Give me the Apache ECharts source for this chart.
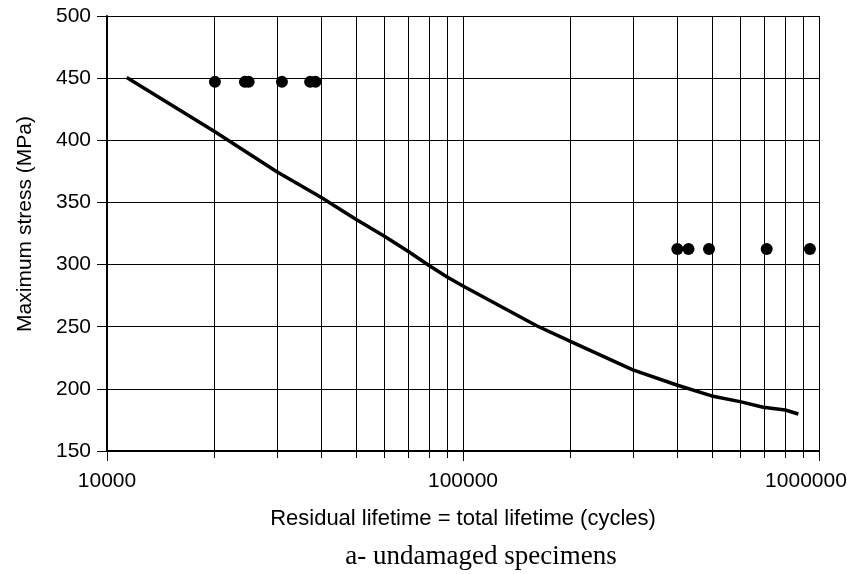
<!DOCTYPE html>
<html>
<head>
<meta charset="utf-8">
<script src="https://cdn.jsdelivr.net/npm/echarts@6/dist/echarts.min.js"></script>
<style>
  html, body { margin: 0; padding: 0; background: #ffffff; }
  #chart { width: 856px; height: 574px; }
</style>
</head>
<body>
<div id="chart"></div>
<script>
// Axis ranges and tick values
const lifeMin = 10000;
const lifeMax = 1000000;
const stressMin = 150;
const stressMax = 500;
const stressStep = 50;
const lifeMinorGrid = [20000, 30000, 40000, 50000, 60000, 70000, 80000, 90000,
                       200000, 300000, 400000, 500000, 600000, 700000, 800000, 900000];

// S-N curve (cycles, MPa)
const curveLife   = [11360, 20100, 30000, 39900, 50000, 60000, 69900, 79900, 90000, 100000,
                     161000, 201000, 300000, 398500, 499500, 600000, 697000, 803000, 875000];
const curveStress = [450.5, 406.9, 374.7, 354.1, 336.4, 323.0, 310.9, 299.7, 290.2, 282.8,
                     250.8, 238.0, 215.2, 203.1, 194.3, 189.7, 185.2, 183.0, 179.8];

// Test results at the upper stress level
const upperLife   = [20100, 24400, 25000, 31000, 37200, 38500];
const upperStress = [447, 447, 447, 447, 447, 447];

// Test results at the lower stress level
const lowerLife   = [400000, 430000, 491000, 713000, 943000];
const lowerStress = [312.5, 312.5, 312.5, 312.5, 312.5];

const zip = (a, b) => a.map((v, i) => [v, b[i]]);

const chart = echarts.init(document.getElementById('chart'), null, { renderer: 'canvas' });

const labelFont = '"Liberation Sans", Arial, sans-serif';

chart.setOption({
  animation: false,
  backgroundColor: '#ffffff',
  grid: { left: 107, right: 37, top: 16, bottom: 123, containLabel: false },
  xAxis: {
    type: 'log',
    logBase: 10,
    min: lifeMin,
    max: lifeMax,
    name: 'Residual lifetime = total lifetime (cycles)',
    nameLocation: 'middle',
    nameGap: 57,
    nameTextStyle: { fontFamily: labelFont, fontSize: 22, color: '#000' },
    axisLine: { show: true, onZero: false, lineStyle: { color: '#000', width: 2 } },
    axisTick: { show: true, inside: false, length: 10, lineStyle: { color: '#000', width: 1 } },
    axisLabel: {
      margin: 20,
      fontFamily: labelFont,
      fontSize: 21,
      color: '#000',
      // the last label is nudged left so it stays inside the canvas
      formatter: v => {
        const n = Math.round(v);
        return n >= lifeMax ? '{edge|' + n + '}' : String(n);
      },
      rich: {
        edge: { fontFamily: labelFont, fontSize: 21, color: '#000', padding: [0, 26, 0, 0] }
      }
    },
    splitLine: { show: true, lineStyle: { color: '#000', width: 1 } }
  },
  yAxis: {
    type: 'value',
    min: stressMin,
    max: stressMax,
    interval: stressStep,
    axisLine: { show: true, onZero: false, lineStyle: { color: '#000', width: 2 } },
    axisTick: { show: true, inside: false, length: 10, lineStyle: { color: '#000', width: 1 } },
    axisLabel: { margin: 16, fontFamily: labelFont, fontSize: 21, color: '#000' },
    splitLine: { show: true, lineStyle: { color: '#000', width: 1 } }
  },
  graphic: [
    {
      type: 'text',
      x: 25,
      y: 224,
      rotation: Math.PI / 2,
      style: {
        text: 'Maximum stress (MPa)',
        font: '21px "Liberation Sans", Arial, sans-serif',
        fill: '#000',
        textAlign: 'center',
        textVerticalAlign: 'middle'
      }
    },
    {
      type: 'text',
      x: 481,
      y: 557,
      style: {
        text: 'a- undamaged specimens',
        font: '27px "Liberation Serif", "Times New Roman", serif',
        fill: '#000',
        textAlign: 'center',
        textVerticalAlign: 'middle'
      }
    }
  ],
  series: [
    {
      // intermediate decade gridlines with their small ticks below the axis
      type: 'custom',
      clip: false,
      silent: true,
      z: 1,
      encode: { x: 0, y: 1 },
      data: lifeMinorGrid.map(v => [v, stressMin]),
      renderItem: (params, api) => {
        const v = api.value(0);
        const top = api.coord([v, stressMax]);
        const bot = api.coord([v, stressMin]);
        const x = Math.round(top[0]) + 0.5;
        return {
          type: 'line',
          shape: { x1: x, y1: top[1], x2: x, y2: bot[1] + 7 },
          style: { stroke: '#000', lineWidth: 1 }
        };
      }
    },
    {
      type: 'line',
      z: 3,
      data: zip(curveLife, curveStress),
      showSymbol: false,
      symbol: 'none',
      smooth: false,
      lineStyle: { color: '#000', width: 3.5 }
    },
    {
      type: 'scatter',
      z: 4,
      data: zip(upperLife, upperStress),
      symbol: 'circle',
      symbolSize: 12,
      itemStyle: { color: '#000', opacity: 1 }
    },
    {
      type: 'scatter',
      z: 4,
      data: zip(lowerLife, lowerStress),
      symbol: 'circle',
      symbolSize: 12,
      itemStyle: { color: '#000', opacity: 1 }
    }
  ]
});
</script>
</body>
</html>
